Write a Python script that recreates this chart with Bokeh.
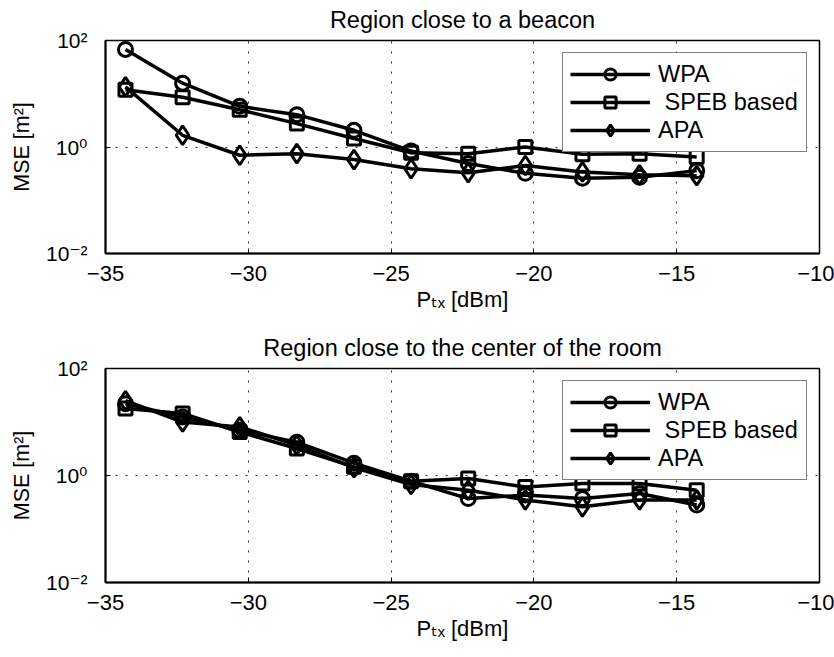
import math
from bokeh.plotting import figure
from bokeh.models import (Legend, LegendItem, FixedTicker, CustomJSTickFormatter, Range1d)
from bokeh.layouts import column
from bokeh.embed import file_html
from bokeh.resources import INLINE

# ---------------- data ----------------
p_tx = [-34.3, -32.3, -30.3, -28.3, -26.3, -24.3, -22.3, -20.3, -18.3, -16.3, -14.3]

beacon_wpa = [68, 15.8, 5.8, 4.05, 2.06, 0.84, 0.49, 0.32, 0.26, 0.27, 0.36]
beacon_speb = [11.9, 8.6, 5.0, 2.75, 1.44, 0.78, 0.75, 1.0, 0.73, 0.75, 0.65]
beacon_apa = [13.5, 1.66, 0.70, 0.75, 0.58, 0.39, 0.33, 0.45, 0.34, 0.30, 0.29]

center_wpa = [22, 12.4, 7.0, 4.2, 1.7, 0.78, 0.37, 0.43, 0.37, 0.46, 0.28]
center_speb = [17.8, 14.4, 6.5, 3.2, 1.45, 0.78, 0.88, 0.61, 0.71, 0.71, 0.53]
center_apa = [25, 10, 8.1, 3.7, 1.4, 0.68, 0.53, 0.35, 0.26, 0.35, 0.35]

titles = ["Region close to a beacon", "Region close to the center of the room"]
series_names = ["WPA", "\u00a0SPEB based", "APA"]
series_markers = ["circle", "square", "diamond"]
marker_sizes = [14, 13, 19]

x_lim = [-35, -10]
y_lim = [1e-2, 1e2]
x_ticks = [-35, -30, -25, -20, -15, -10]
x_tick_labels = ["\u221235", "\u221230", "\u221225", "\u221220", "\u221215", "\u221210"]
y_ticks = [1e-2, 1, 1e2]
y_tick_labels = ["10\u207b\u00b2", "10\u2070", "10\u00b2"]
x_axis_label = "P\u209c\u2093 [dBm]"
y_axis_label = "MSE [m\u00b2]"

FONT = "Liberation Sans, DejaVu Sans"

TICK_JS = "const i = tvals.indexOf(tick); return i >= 0 ? tlabs[i] : '';"


def make_panel(title, series, top_border, frame_h, bottom_border):
    p = figure(width=834, height=top_border + frame_h + bottom_border,
               frame_width=714, frame_height=frame_h,
               min_border_left=105, min_border_right=15,
               min_border_top=top_border, min_border_bottom=bottom_border,
               x_range=Range1d(*x_lim), y_range=Range1d(*y_lim), y_axis_type="log",
               output_backend="svg", toolbar_location=None)
    p.background_fill_color = "white"
    p.border_fill_color = "white"
    p.outline_line_color = "black"
    p.outline_line_width = 1.5

    p.title.text = title
    p.title.align = "center"
    p.title.vertical_align = "top"
    p.title.text_font = FONT
    p.title.text_font_size = "23.5px"
    p.title.text_font_style = "normal"
    p.title.text_color = "black"
    p.title.standoff = 12

    p.xaxis.ticker = FixedTicker(ticks=x_ticks, minor_ticks=[])
    p.yaxis.ticker = FixedTicker(ticks=y_ticks, minor_ticks=[])
    p.xaxis.formatter = CustomJSTickFormatter(args=dict(tvals=x_ticks, tlabs=x_tick_labels), code=TICK_JS)
    p.yaxis.formatter = CustomJSTickFormatter(args=dict(tvals=y_ticks, tlabs=y_tick_labels), code=TICK_JS)
    for ax in (p.xaxis[0], p.yaxis[0]):
        ax.major_tick_in = 5
        ax.major_tick_out = 0
        ax.minor_tick_in = 0
        ax.minor_tick_out = 0
        ax.minor_tick_line_color = None
        ax.major_tick_line_color = "black"
        ax.major_tick_line_width = 1
        ax.axis_line_color = "black"
        ax.axis_line_width = 2
        ax.major_label_text_font = FONT
        ax.major_label_text_color = "black"
        ax.axis_label_text_font = FONT
        ax.axis_label_text_font_style = "normal"
        ax.axis_label_text_color = "black"
    p.xaxis.major_label_text_font_size = "22px"
    p.xaxis.major_label_standoff = 12
    p.xaxis.axis_label = x_axis_label
    p.xaxis.axis_label_text_font_size = "22px"
    p.xaxis.axis_label_standoff = 3
    p.yaxis.major_label_text_font_size = "21px"
    p.yaxis.major_label_standoff = 18
    p.yaxis.axis_label = y_axis_label
    p.yaxis.axis_label_text_font_size = "21.5px"
    p.yaxis.axis_label_standoff = 9

    for g in (p.xgrid[0], p.ygrid[0]):
        g.grid_line_color = "black"
        g.grid_line_width = 1
        g.grid_line_dash = "2 8"
        g.grid_line_alpha = 0.8
        g.minor_grid_line_color = None

    items = []
    for name, mk, ms, ys in zip(series_names, series_markers, marker_sizes, series):
        lr = p.line(p_tx, ys, line_color="black", line_width=3.5)
        sr = p.scatter(p_tx, ys, marker=mk, size=ms, line_color="black",
                       line_width=3, fill_color=None)
        items.append(LegendItem(label=name, renderers=[lr, sr]))

    legend = Legend(items=items, location="top_right", margin=12, padding=7, spacing=0,
                    glyph_width=80, glyph_height=28, label_standoff=8,
                    label_text_font=FONT, label_text_font_size="23.5px",
                    label_text_color="black", label_width=141,
                    border_line_color="black", border_line_width=1.5,
                    background_fill_color="white", background_fill_alpha=1.0)
    p.add_layout(legend)
    return p


p1 = make_panel(titles[0], [beacon_wpa, beacon_speb, beacon_apa], 40, 213, 75)
p2 = make_panel(titles[1], [center_wpa, center_speb, center_apa], 40, 214, 75)

layout = column(p1, p2, spacing=0)
open("out.html", "w").write(file_html(layout, INLINE))
